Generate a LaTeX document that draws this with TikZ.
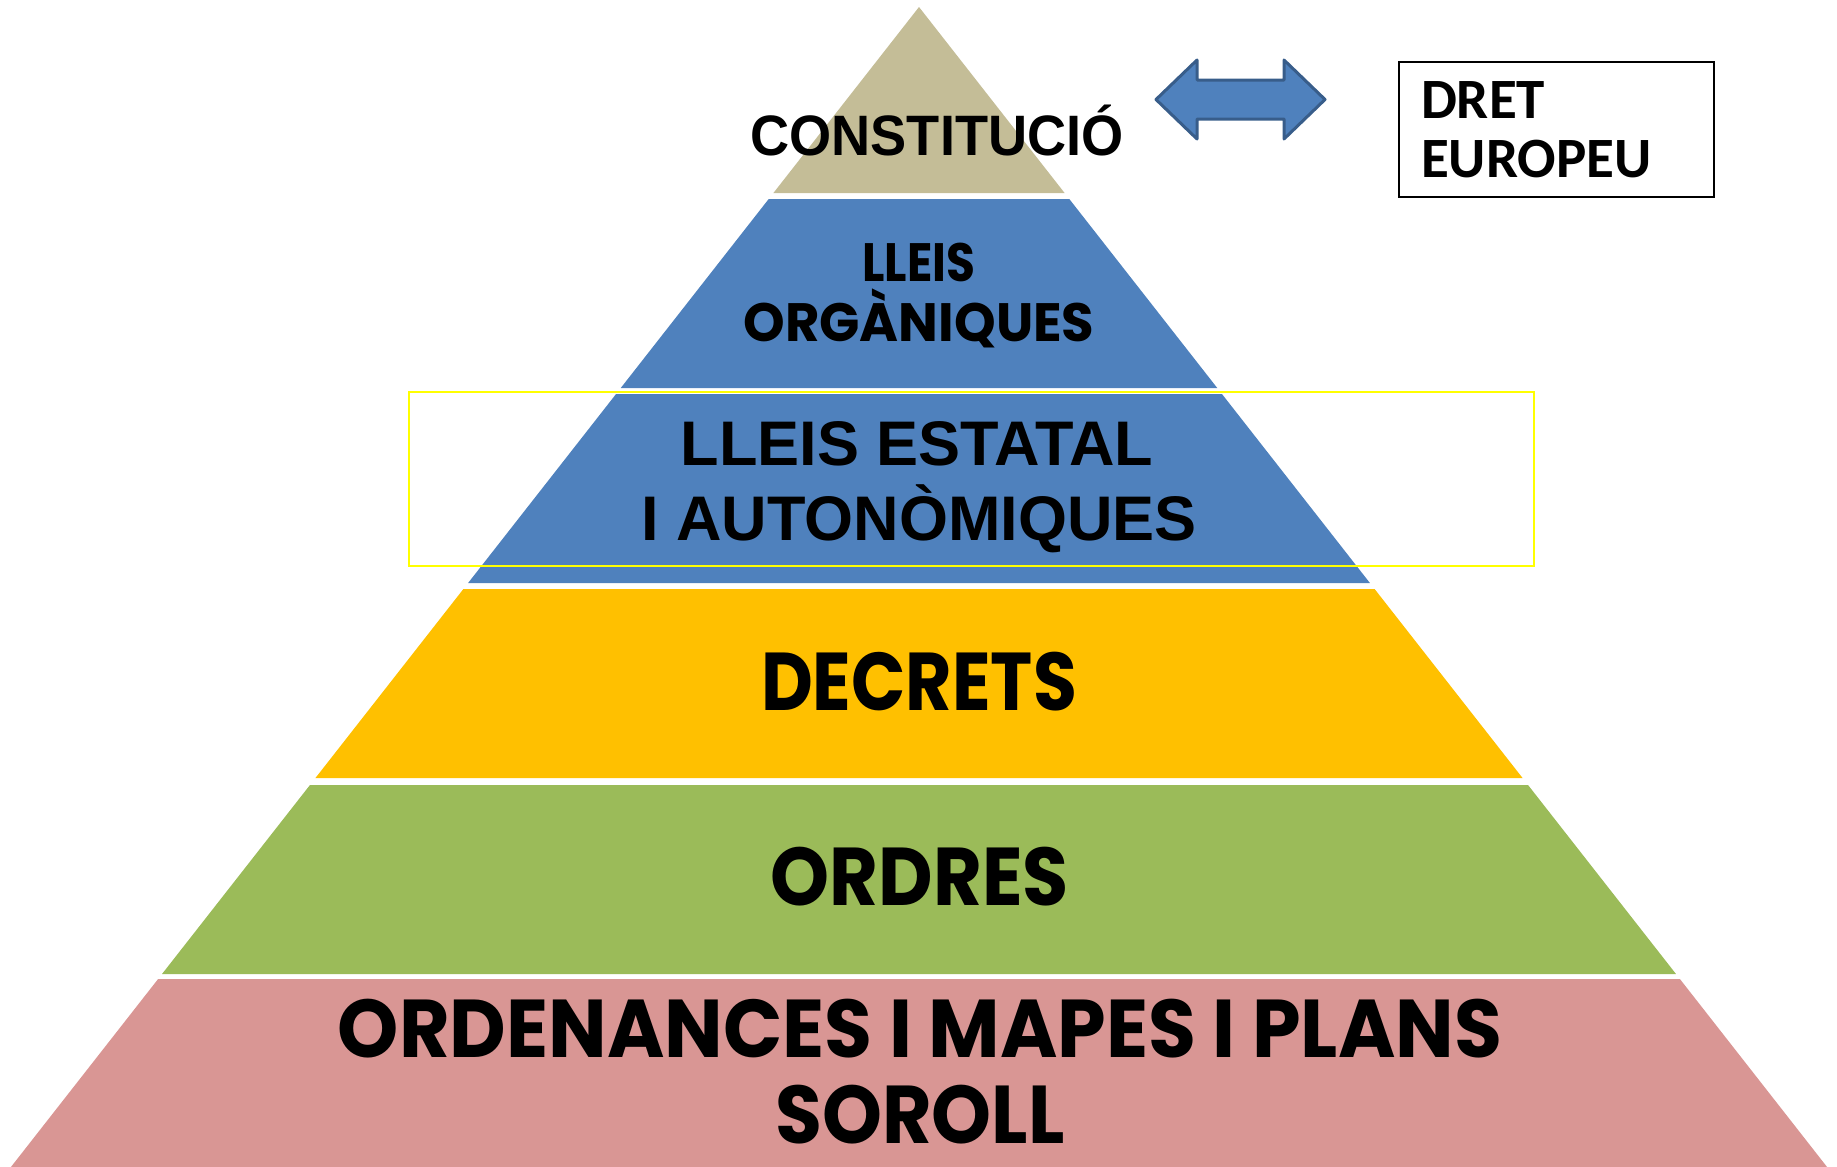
\documentclass[tikz,border=0pt]{standalone}
\usepackage{fontspec}
\setmainfont{Liberation Sans}
\newfontfamily\gothicfont{Poppins}
\newfontfamily\narrowfont[FakeStretch=0.95]{Liberation Sans}
\newfontfamily\boxfont{Carlito}

\definecolor{constcol}{HTML}{C4BD97}
\definecolor{lleiscol}{HTML}{4F81BD}
\definecolor{decrcol}{HTML}{FFC000}
\definecolor{ordrcol}{HTML}{9BBB59}
\definecolor{ordencol}{HTML}{D99694}
\definecolor{framecol}{HTML}{FFFF00}
\definecolor{arrowline}{HTML}{385D8A}

% one band of the pyramid: top, bottom, colour
\newcommand{\pyrband}[3]
{
	\fill[#3] ({919-0.7828*(#1-7)},#1) -- ({919+0.7828*(#1-7)},#1) -- ({919+0.7828*(#2-7)},#2) -- ({919-0.7828*(#2-7)},#2) -- cycle
}
% text squeezed sideways
\newcommand{\squeeze}[2]{\scalebox{#1}[1]{#2}}

\tikzset{
	gothictext/.style={anchor=base,inner sep=0pt,font=\gothicfont\bfseries\fontsize{#1}{#1}\selectfont},
	ariatext/.style={anchor=base,inner sep=0pt,font=\bfseries\fontsize{#1}{#1}\selectfont},
	narrowtext/.style={anchor=base,inner sep=0pt,font=\narrowfont\bfseries\fontsize{#1}{#1}\selectfont}
}

\begin{document}
\begin{tikzpicture}[x=1pt,y=-1pt]
	\useasboundingbox (0,0) rectangle (1837,1167);
	
	%%% Bands of the pyramid
	\pyrband{7}{193}{constcol};
	\pyrband{199}{388}{lleiscol};
	\pyrband{394}{583}{lleiscol};
	\pyrband{589}{778}{decrcol};
	\pyrband{785}{974}{ordrcol};
	\pyrband{979}{1167}{ordencol};
	
	%%% Labels of the bands
	\node[narrowtext=57] (constitucio) at (937,155) {CONSTITUCIÓ};
	\node[gothictext=54] (organ1) at (919,281) {\squeeze{0.87}{LLEIS}};
	\node[gothictext=54] (organ2) at (919,341) {\squeeze{0.98}{ORGÀNIQUES}};
	\node[ariatext=63] (estat1) at (917,465) {LLEIS ESTATAL};
	\node[ariatext=63] (estat2) at (919,540) {I AUTONÒMIQUES};
	\node[gothictext=82] (decrets) at (919,710) {\squeeze{0.87}{DECRETS}};
	\node[gothictext=82] (ordres) at (920,905) {\squeeze{0.915}{ORDRES}};
	\node[gothictext=82] (orden1) at (920,1057) {\squeeze{0.95}{ORDENANCES I MAPES I PLANS}};
	\node[gothictext=82] (orden2) at (920,1143) {\squeeze{0.93}{SOROLL}};
	
	%%% Yellow frame round the state laws
	\node[draw=framecol,line width=2.5pt,minimum width=1125pt,minimum height=174pt,inner sep=0pt] (frame) at (971.5,479) {};
	
	%%% Double arrow
	\filldraw[fill=lleiscol,draw=arrowline,line width=3pt,line join=round]
		(1156,99.5) -- (1197,60) -- (1197,80) -- (1284,80) -- (1284,60) -- (1325,99.5)
		-- (1284,139) -- (1284,119) -- (1197,119) -- (1197,139) -- cycle;
	
	%%% European law
	\node[draw,line width=2pt,inner xsep=22pt,text width=271pt,minimum height=135pt,align=left,font=\boxfont\bfseries\fontsize{57}{59}\selectfont] (dret) at (1556.5,129.5) {DRET\\EUROPEU};
\end{tikzpicture}
\end{document}
